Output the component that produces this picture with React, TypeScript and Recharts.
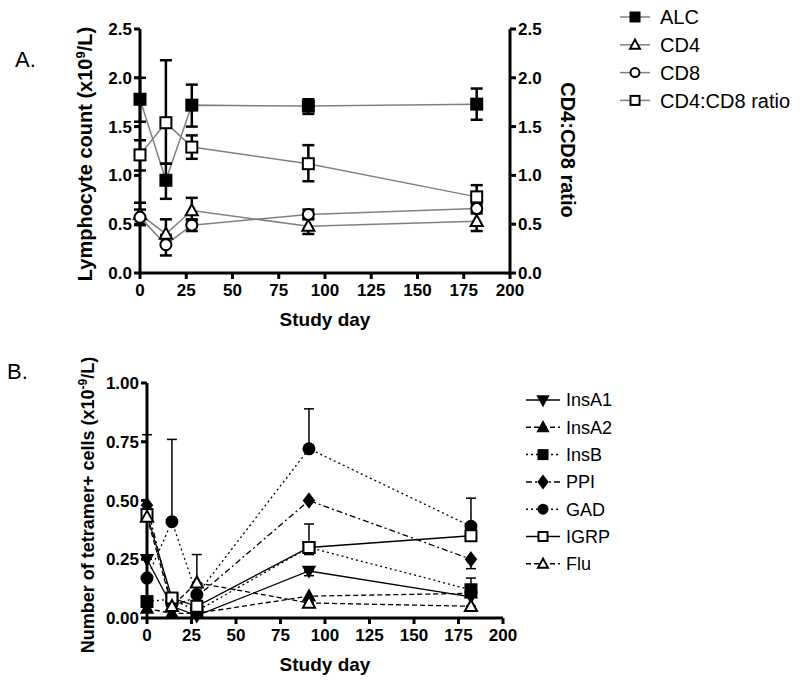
import React from 'react';
import { ComposedChart, Line, XAxis, YAxis, ErrorBar, Legend } from 'recharts';

// ─── Data ─────────────────────────────────────────────────────────────
const days = [0, 14, 28, 91, 182];
const dayTicks = [0, 25, 50, 75, 100, 125, 150, 175, 200];

// panel A (x10^9/L, ratio on the right axis)
const alc = [1.78, 0.95, 1.72, 1.71, 1.73];
const alcErr = [[0.23, 0.22], [0.19, 0.17], [0.22, 0.21], [0.08, 0.07], [0.16, 0.16]];
const cd4 = [0.6, 0.4, 0.64, 0.48, 0.53];
const cd4Err = [[0.1, 0.12], [0.1, 0.15], [0.1, 0.13], [0.08, 0.08], [0.1, 0.1]];
const cd8 = [0.57, 0.29, 0.49, 0.6, 0.66];
const cd8Err = [[0.08, 0.08], [0.11, 0.1], [0.06, 0.06], [0.05, 0.05], [0.05, 0.05]];
const ratio = [1.21, 1.54, 1.29, 1.12, 0.78];
const ratioErr = [[0.16, 0.15], [0.42, 0.64], [0.12, 0.12], [0.18, 0.19], [0.1, 0.12]];
const ticksA = [0, 0.5, 1, 1.5, 2, 2.5];

// panel B (tetramer+ cells)
const insA1 = [0.25, 0.05, 0.01, 0.2, 0.09];
const insA2 = [0.04, 0.02, 0.02, 0.093, 0.105];
const insB = [0.07, 0.08, 0.03, 0.3, 0.12];
const ppi = [0.48, 0.05, 0.09, 0.5, 0.25];
const gad = [0.17, 0.41, 0.1, 0.72, 0.39];
const igrp = [0.44, 0.085, 0.05, 0.3, 0.35];
const flu = [0.43, 0.05, 0.15, 0.064, 0.05];
const insA1Err = [[0, 0], [0, 0], [0, 0], [0.02, 0], [0, 0]];
const insBErr = [[0, 0], [0, 0], [0, 0], [0.03, 0.1], [0, 0.05]];
const ppiErr = [[0, 0], [0, 0], [0, 0], [0, 0], [0.04, 0]];
const gadErr = [[0, 0], [0, 0.35], [0, 0], [0, 0.17], [0, 0.12]];
const igrpErr = [[0, 0.34], [0, 0], [0, 0], [0, 0], [0, 0]];
const fluErr = [[0, 0], [0, 0], [0, 0.12], [0, 0], [0, 0]];
const ticksB = [0, 0.25, 0.5, 0.75, 1];

const dataA = days.map((d, i) => ({
  day: d,
  alc: alc[i], alcErr: alcErr[i],
  cd4: cd4[i], cd4Err: cd4Err[i],
  cd8: cd8[i], cd8Err: cd8Err[i],
  ratio: ratio[i], ratioErr: ratioErr[i],
}));

const dataB = days.map((d, i) => ({
  day: d,
  insA1: insA1[i], insA1Err: insA1Err[i],
  insA2: insA2[i],
  insB: insB[i], insBErr: insBErr[i],
  ppi: ppi[i], ppiErr: ppiErr[i],
  gad: gad[i], gadErr: gadErr[i],
  igrp: igrp[i], igrpErr: igrpErr[i],
  flu: flu[i], fluErr: fluErr[i],
}));

// ─── Styles ───────────────────────────────────────────────────────────
const FONT = '"Liberation Sans", Arial, Helvetica, sans-serif';
const axisStroke = { stroke: '#000', strokeWidth: 3 };
const tickStyle = { fill: '#000', fontSize: 17, fontWeight: 700, fontFamily: FONT };
const GRAY = '#808080';

// ─── Markers ──────────────────────────────────────────────────────────
type Shape = 'square' | 'triangle' | 'circle' | 'triDown' | 'diamond';

const Marker = ({ cx, cy, shape, filled, r }: { cx: number; cy: number; shape: Shape; filled: boolean; r: number }) => {
  const fill = filled ? '#000' : '#fff';
  const sw = 2;
  if (shape === 'square') {
    return <rect x={cx - r} y={cy - r} width={r * 2} height={r * 2} fill={fill} stroke="#000" strokeWidth={sw} />;
  }
  if (shape === 'circle') {
    return <circle cx={cx} cy={cy} r={r} fill={fill} stroke="#000" strokeWidth={sw} />;
  }
  if (shape === 'triangle') {
    const pts = `${cx},${cy - r * 1.15} ${cx - r * 1.1},${cy + r * 0.85} ${cx + r * 1.1},${cy + r * 0.85}`;
    return <polygon points={pts} fill={fill} stroke="#000" strokeWidth={sw} />;
  }
  if (shape === 'triDown') {
    const pts = `${cx},${cy + r * 1.15} ${cx - r * 1.1},${cy - r * 0.85} ${cx + r * 1.1},${cy - r * 0.85}`;
    return <polygon points={pts} fill={fill} stroke="#000" strokeWidth={sw} />;
  }
  const pts = `${cx},${cy - r * 1.3} ${cx + r},${cy} ${cx},${cy + r * 1.3} ${cx - r},${cy}`;
  return <polygon points={pts} fill={fill} stroke="#000" strokeWidth={sw} />;
};

const dotFn = (shape: Shape, filled: boolean, r: number) => (p: any) => (
  <Marker key={`${shape}-${p.index}`} cx={p.cx} cy={p.cy} shape={shape} filled={filled} r={r} />
);

// ─── Legends ──────────────────────────────────────────────────────────
interface LegendItem { label: string; shape: Shape; filled: boolean; dash?: string }

const legendA: LegendItem[] = [
  { label: 'ALC', shape: 'square', filled: true },
  { label: 'CD4', shape: 'triangle', filled: false },
  { label: 'CD8', shape: 'circle', filled: false },
  { label: 'CD4:CD8 ratio', shape: 'square', filled: false },
];

const legendB: LegendItem[] = [
  { label: 'InsA1', shape: 'triDown', filled: true },
  { label: 'InsA2', shape: 'triangle', filled: true, dash: '5 3' },
  { label: 'InsB', shape: 'square', filled: true, dash: '2 3' },
  { label: 'PPI', shape: 'diamond', filled: true, dash: '6 3 2 3' },
  { label: 'GAD', shape: 'circle', filled: true, dash: '2 3' },
  { label: 'IGRP', shape: 'square', filled: false },
  { label: 'Flu', shape: 'triangle', filled: false, dash: '5 3' },
];

interface LegendBoxProps {
  items: LegendItem[]; rowH: number; color: string; fontSize: number; r: number; lineW: number; gap: number;
}

const LegendBox = ({ items, rowH, color, fontSize, r, lineW, gap }: LegendBoxProps) => (
  <svg width={190} height={items.length * rowH + 10} style={{ overflow: 'visible', display: 'block' }}>
    {items.map((it, i) => {
      const y = 12 + i * rowH;
      return (
        <g key={it.label}>
          <line x1={4} x2={4 + lineW} y1={y} y2={y} stroke={color} strokeWidth={1.5} strokeDasharray={it.dash} />
          <Marker cx={4 + lineW / 2} cy={y} shape={it.shape} filled={it.filled} r={r} />
          <text x={4 + lineW + gap} y={y + fontSize * 0.36} fontSize={fontSize} fontFamily={FONT} fill="#000">{it.label}</text>
        </g>
      );
    })}
  </svg>
);

// ─── Axis titles ──────────────────────────────────────────────────────
const StudyDay = (props: any) => {
  const vb = props.viewBox || {};
  return (
    <text x={vb.x + vb.width / 2} y={vb.y + 53} textAnchor="middle" fontSize={19} fontWeight={700} fontFamily={FONT}>
      Study day
    </text>
  );
};

const LeftTitleA = () => (
  <text transform="translate(92,154) rotate(-90)" textAnchor="middle" fontSize={20} fontWeight={700} fontFamily={FONT}>
    Lymphocyte count (x10<tspan dy={-7} fontSize={13}>9</tspan><tspan dy={7}>/L)</tspan>
  </text>
);

const RightTitleA = () => (
  <text transform="translate(561,150) rotate(90)" textAnchor="middle" fontSize={20} fontWeight={700} fontFamily={FONT}>
    CD4:CD8 ratio
  </text>
);

const LeftTitleB = () => (
  <text transform="translate(94,165) rotate(-90)" textAnchor="middle" fontSize={18} fontWeight={700} fontFamily={FONT}>
    Number of tetramer+ cells (x10<tspan dy={-7} fontSize={12}>-9</tspan><tspan dy={7}>/L)</tspan>
  </text>
);

// ─── App ──────────────────────────────────────────────────────────────
export default function App() {
  return (
    <div style={{ position: 'absolute', left: 0, top: 0, width: 800, height: 683, background: '#fff', fontFamily: FONT }}>
      <div style={{ position: 'absolute', left: 15, top: 47, fontSize: 22, fontFamily: FONT }}>A.</div>
      <div style={{ position: 'absolute', left: 7, top: 359, fontSize: 22, fontFamily: FONT }}>B.</div>

      {/* Panel A */}
      <div style={{ position: 'absolute', left: 0, top: 0 }}>
        <ComposedChart width={800} height={340} data={dataA} margin={{ top: 29, right: 230, bottom: 22, left: 80 }}>
          <XAxis
            dataKey="day" type="number" domain={[0, 200]} ticks={dayTicks} height={45} interval={0} tickMargin={5}
            axisLine={axisStroke} tickLine={axisStroke} tickSize={6} tick={tickStyle} label={StudyDay}
          />
          <YAxis
            yAxisId="left" domain={[0, 2.5]} ticks={ticksA} width={60} interval={0}
            tickFormatter={(v: number) => v.toFixed(1)}
            axisLine={axisStroke} tickLine={axisStroke} tickSize={6} tick={tickStyle} label={LeftTitleA}
          />
          <YAxis
            yAxisId="right" orientation="right" domain={[0, 2.5]} ticks={ticksA} width={60} interval={0}
            tickFormatter={(v: number) => v.toFixed(1)}
            axisLine={axisStroke} tickLine={axisStroke} tickSize={6} tick={tickStyle} label={RightTitleA}
          />
          <Legend
            layout="vertical" align="center" verticalAlign="middle"
            content={() => <LegendBox items={legendA} rowH={27.8} color={GRAY} fontSize={20} r={4.5} lineW={30} gap={10} />}
            wrapperStyle={{ position: 'absolute', left: 616, top: 5, width: 190 }}
          />
          <Line yAxisId="left" dataKey="alc" stroke={GRAY} strokeWidth={1.5} dot={dotFn('square', true, 5.5)} isAnimationActive={false}>
            <ErrorBar dataKey="alcErr" width={6} stroke="#000" strokeWidth={2.5} />
          </Line>
          <Line yAxisId="right" dataKey="ratio" stroke={GRAY} strokeWidth={1.5} dot={dotFn('square', false, 5.5)} isAnimationActive={false}>
            <ErrorBar dataKey="ratioErr" width={6} stroke="#000" strokeWidth={2.5} />
          </Line>
          <Line yAxisId="left" dataKey="cd4" stroke={GRAY} strokeWidth={1.5} dot={dotFn('triangle', false, 5.5)} isAnimationActive={false}>
            <ErrorBar dataKey="cd4Err" width={6} stroke="#000" strokeWidth={2.5} />
          </Line>
          <Line yAxisId="left" dataKey="cd8" stroke={GRAY} strokeWidth={1.5} dot={dotFn('circle', false, 5.5)} isAnimationActive={false}>
            <ErrorBar dataKey="cd8Err" width={6} stroke="#000" strokeWidth={2.5} />
          </Line>
        </ComposedChart>
      </div>

      {/* Panel B */}
      <div style={{ position: 'absolute', left: 0, top: 340 }}>
        <ComposedChart width={800} height={343} data={dataB} margin={{ top: 43, right: 297, bottom: 20, left: 87 }}>
          <XAxis
            dataKey="day" type="number" domain={[0, 200]} ticks={dayTicks} height={45} interval={0} tickMargin={5}
            axisLine={axisStroke} tickLine={axisStroke} tickSize={6} tick={tickStyle} label={StudyDay}
          />
          <YAxis
            domain={[0, 1]} ticks={ticksB} width={60} interval={0}
            tickFormatter={(v: number) => v.toFixed(2)}
            axisLine={axisStroke} tickLine={axisStroke} tickSize={6} tick={tickStyle} label={LeftTitleB}
          />
          <Legend
            layout="vertical" align="center" verticalAlign="middle"
            content={() => <LegendBox items={legendB} rowH={27.3} color="#000" fontSize={18} r={4.5} lineW={34} gap={6} />}
            wrapperStyle={{ position: 'absolute', left: 522, top: 48, width: 190 }}
          />
          <Line dataKey="insA1" stroke="#000" strokeWidth={1.3} dot={dotFn('triDown', true, 5)} isAnimationActive={false}>
            <ErrorBar dataKey="insA1Err" width={5} stroke="#000" strokeWidth={1.5} />
          </Line>
          <Line dataKey="insA2" stroke="#000" strokeWidth={1.3} strokeDasharray="5 3" dot={dotFn('triangle', true, 5)} isAnimationActive={false} />
          <Line dataKey="insB" stroke="#000" strokeWidth={1.3} strokeDasharray="2 3" dot={dotFn('square', true, 5.5)} isAnimationActive={false}>
            <ErrorBar dataKey="insBErr" width={5} stroke="#000" strokeWidth={1.5} />
          </Line>
          <Line dataKey="ppi" stroke="#000" strokeWidth={1.3} strokeDasharray="6 3 2 3" dot={dotFn('diamond', true, 5)} isAnimationActive={false}>
            <ErrorBar dataKey="ppiErr" width={5} stroke="#000" strokeWidth={1.5} />
          </Line>
          <Line dataKey="gad" stroke="#000" strokeWidth={1.3} strokeDasharray="2 3" dot={dotFn('circle', true, 5.5)} isAnimationActive={false}>
            <ErrorBar dataKey="gadErr" width={5} stroke="#000" strokeWidth={1.5} />
          </Line>
          <Line dataKey="igrp" stroke="#000" strokeWidth={1.3} dot={dotFn('square', false, 5.5)} isAnimationActive={false}>
            <ErrorBar dataKey="igrpErr" width={5} stroke="#000" strokeWidth={1.5} />
          </Line>
          <Line dataKey="flu" stroke="#000" strokeWidth={1.3} strokeDasharray="5 3" dot={dotFn('triangle', false, 5.5)} isAnimationActive={false}>
            <ErrorBar dataKey="fluErr" width={5} stroke="#000" strokeWidth={1.5} />
          </Line>
        </ComposedChart>
      </div>
    </div>
  );
}
